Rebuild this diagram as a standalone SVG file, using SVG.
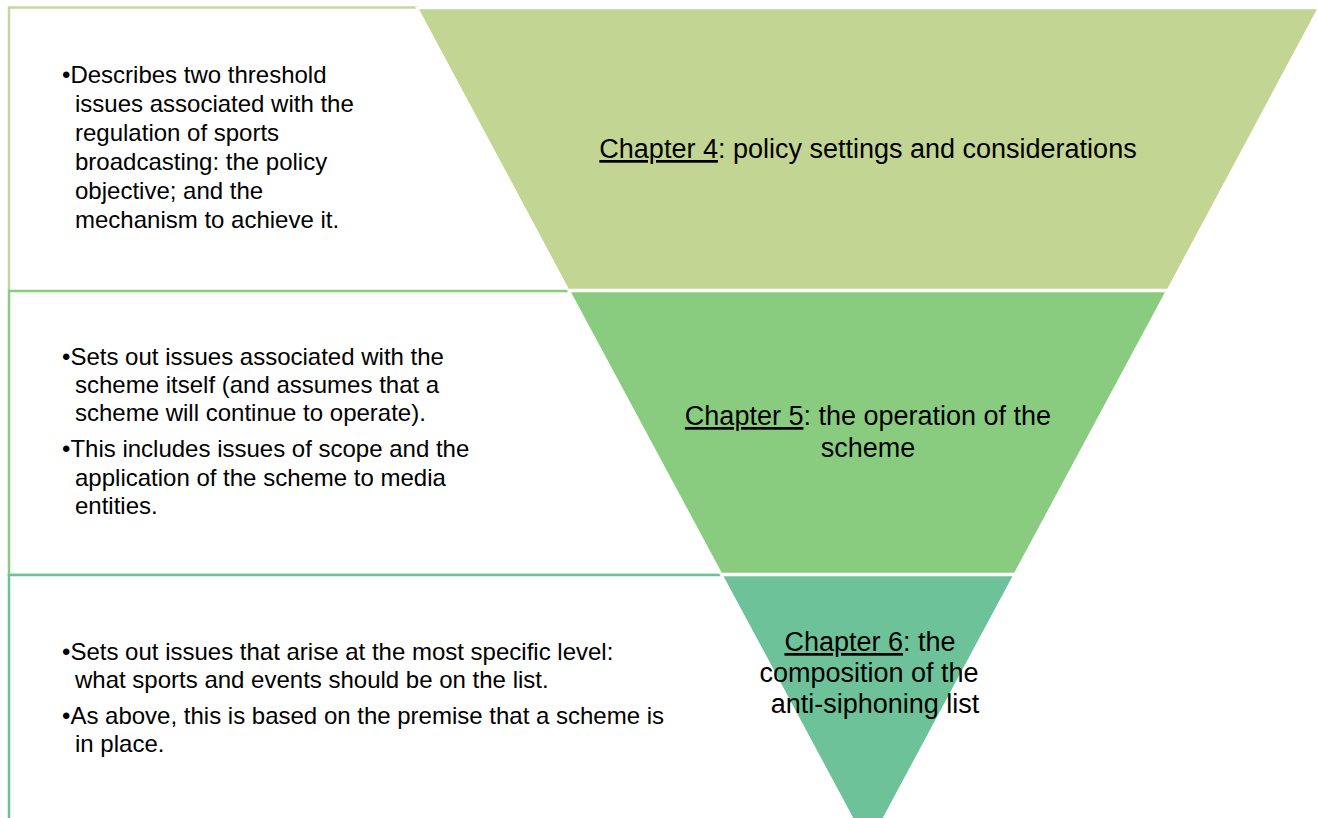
<svg xmlns="http://www.w3.org/2000/svg" width="1318" height="818" viewBox="0 0 1318 818">
<style>
.t{font-family:"Liberation Sans",Arial,sans-serif;font-size:24px;fill:#000}
.c{text-anchor:middle;font-size:27px}
.u{text-decoration:underline}
.box{fill:#fff;stroke-width:2.5}
.tri{stroke:#fff;stroke-width:2.5}
</style>
<rect width="1318" height="818" fill="#fff"/>
<g id="box1"><path class="box" d="M9,290 V7.5 H418" stroke="#C3D69B"/></g>
<g id="box2"><rect class="box" x="9" y="291" width="859" height="284" stroke="#89CC80"/></g>
<g id="box3"><rect class="box" x="9" y="575" width="859" height="300" stroke="#6CC29A"/></g>
<g id="tri1"><polygon class="tri" points="417,8 1319,8 1168,290 568,290" fill="#C3D592"/></g>
<g id="tri2"><polygon class="tri" points="569,291 1167,291 1015,574 721,574" fill="#89CC80"/></g>
<g id="tri3"><polygon class="tri" points="721.5,575 1014.5,575 868,848" fill="#6DC29A"/></g>
<g id="text1" class="t">
<text x="62" y="83">•Describes two threshold</text>
<text x="75" y="112">issues associated with the</text>
<text x="75" y="141">regulation of sports</text>
<text x="75" y="170">broadcasting: the policy</text>
<text x="75" y="199">objective; and the</text>
<text x="75" y="228">mechanism to achieve it.</text>
</g>
<g id="text2" class="t">
<text x="62" y="365">•Sets out issues associated with the</text>
<text x="75" y="393">scheme itself (and assumes that a</text>
<text x="75" y="421">scheme will continue to operate).</text>
<text x="62" y="457">•This includes issues of scope and the</text>
<text x="75" y="486">application of the scheme to media</text>
<text x="75" y="514">entities.</text>
</g>
<g id="text3" class="t">
<text x="62" y="660">•Sets out issues that arise at the most specific level:</text>
<text x="75" y="688">what sports and events should be on the list.</text>
<text x="62" y="724">•As above, this is based on the premise that a scheme is</text>
<text x="75" y="752">in place.</text>
</g>
<g id="label4" class="t c"><text x="868" y="158"><tspan class="u">Chapter 4</tspan>: policy settings and considerations</text></g>
<g id="label5" class="t c">
<text x="868" y="425"><tspan class="u">Chapter 5</tspan>: the operation of the</text>
<text x="868" y="457">scheme</text>
</g>
<g id="label6" class="t c">
<text x="870" y="651"><tspan class="u">Chapter 6</tspan>: the</text>
<text x="869" y="682">composition of the</text>
<text x="875" y="713">anti-siphoning list</text>
</g>
<g id="connectors"></g>
</svg>
